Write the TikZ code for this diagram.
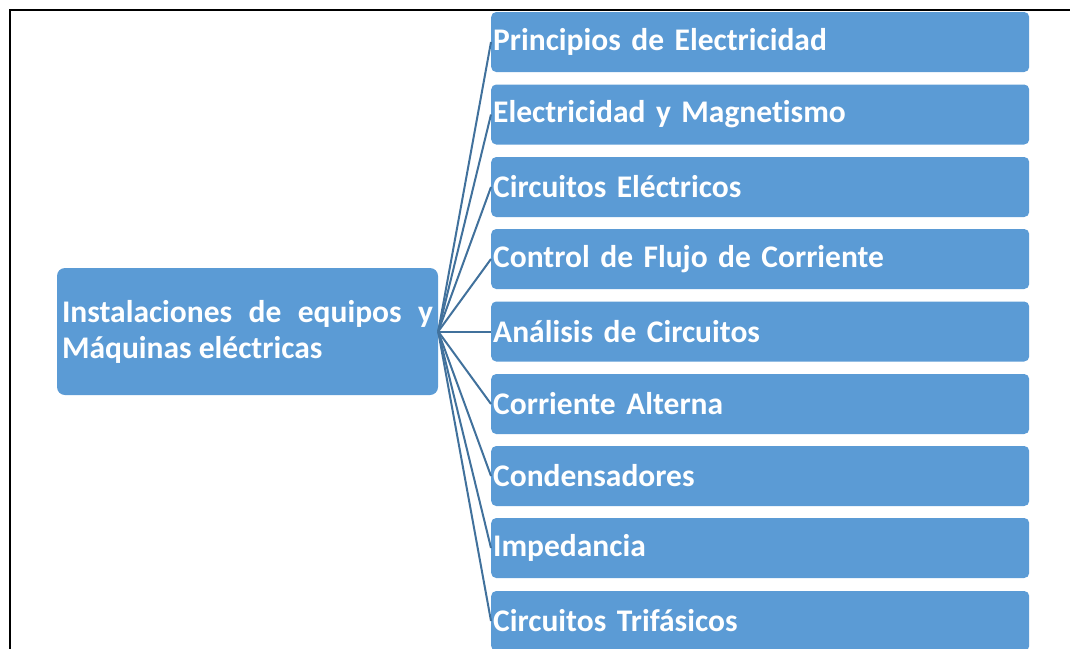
\documentclass[tikz,border=0pt]{standalone}
\usepackage{fontspec}
\setmainfont{Carlito}[RawFeature={-liga;-clig;-dlig}]
\definecolor{boxblue}{HTML}{5B9BD5}
\definecolor{lineblue}{HTML}{41719C}
\begin{document}
\begin{tikzpicture}[x=1pt,y=-1pt,
  topic/.style={fill=boxblue,rounded corners=5pt,anchor=west,minimum width=538pt,minimum height=60pt,
    text width=534pt,inner sep=2pt,align=left,text=white,font=\bfseries\fontsize{31.5}{34}\selectfont},
  root/.style={fill=boxblue,rounded corners=8pt,minimum width=381pt,minimum height=127pt,
    text width=371pt,inner sep=5pt,align=justify,text=white,font=\bfseries\fontsize{31.5}{36}\selectfont},
  link/.style={draw=lineblue,line width=2pt}]
\useasboundingbox (0,0) rectangle (1070,648);
\clip (0,0) rectangle (1070,648);
\draw[line width=2pt] (10,650) -- (10,10) -- (1072,10);
\node[root] (c) at (247.5,331.5) {Instalaciones de equipos y Máquinas eléctricas};
\node[topic] (b1) at (491,42) {Principios de Electricidad};
\node[topic] (b2) at (491,114.5) {Electricidad y Magnetismo};
\node[topic] (b3) at (491,187) {Circuitos Eléctricos};
\node[topic] (b4) at (491,259) {Control de Flujo de Corriente};
\node[topic] (b5) at (491,331.5) {Análisis de Circuitos};
\node[topic] (b6) at (491,404) {Corriente Alterna};
\node[topic] (b7) at (491,476) {Condensadores};
\node[topic] (b8) at (491,548) {Impedancia};
\node[topic] (b9) at (491,621) {Circuitos Trifásicos};
\foreach \i in {1,...,9} \draw[link] (c.east) -- (b\i.west);
\end{tikzpicture}
\end{document}
